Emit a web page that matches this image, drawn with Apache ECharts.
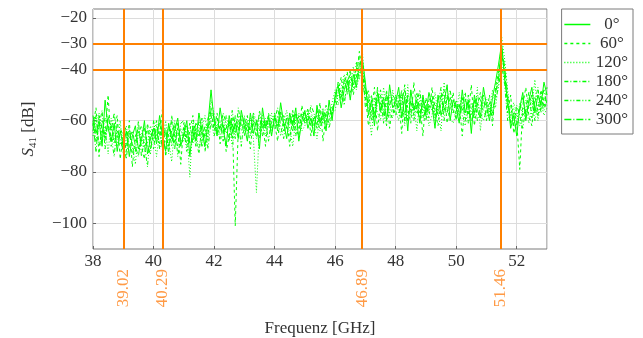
<!DOCTYPE html>
<html>
<head>
<meta charset="utf-8">
<script src="https://cdn.jsdelivr.net/npm/echarts@6/dist/echarts.min.js"></script>
<style>
  html, body { margin: 0; padding: 0; background: #fff; }
  #chart { width: 643px; height: 338px; }
</style>
</head>
<body>
<div id="chart"></div>
<script>
// sampling grid of the measurement (GHz)
const freqStart = 38
const freqStep = 0.1

const seriesNames = ['0°', '60°', '120°', '180°', '240°', '300°']

// S41 in dB, one value per 0.1 GHz from 38.0 to 53.0
const s0 = [
  -58,-65,-60,-70,-52,-63,-68,-61,-72,-64,
  -70,-64,-74,-66,-62,-71,-68,-60,-73,-67,
  -63,-69,-58,-66,-72,-61,-67,-64,-59,-70,
  -65,-60,-74,-62,-68,-57,-64,-70,-61,-48,
  -60,-66,-55,-63,-70,-58,-64,-61,-67,-56,
  -62,-68,-57,-65,-60,-71,-55,-63,-59,-66,
  -58,-64,-53,-61,-67,-57,-62,-55,-68,-60,
  -56,-63,-59,-66,-54,-61,-57,-64,-52,-60,
  -50,-46,-55,-48,-44,-52,-42,-47,-38,-36,
  -45,-58,-52,-62,-49,-56,-51,-60,-46,-55,
  -53,-47,-59,-51,-64,-48,-56,-52,-61,-50,
  -57,-49,-54,-63,-50,-58,-53,-46,-60,-52,
  -55,-61,-48,-57,-52,-65,-50,-56,-59,-47,
  -54,-60,-51,-45,-38,-30,-44,-52,-63,-58,
  -66,-55,-49,-60,-52,-47,-57,-50,-54,-45,
  -50
]
const s60 = [
  -62,-55,-74,-60,-66,-50,-70,-63,-58,-75,
  -65,-72,-60,-78,-66,-63,-70,-75,-61,-68,
  -71,-62,-66,-55,-74,-65,-60,-69,-63,-77,
  -61,-70,-64,-58,-67,-73,-62,-66,-59,-55,
  -64,-57,-69,-61,-72,-66,-59,-101,-63,-58,
  -66,-60,-71,-58,-64,-67,-61,-70,-57,-63,
  -61,-68,-56,-64,-59,-70,-57,-63,-66,-54,
  -60,-55,-66,-58,-62,-53,-68,-57,-61,-55,
  -53,-49,-43,-52,-47,-40,-50,-44,-33,-41,
  -50,-62,-56,-47,-64,-53,-58,-48,-63,-54,
  -58,-52,-65,-48,-55,-61,-45,-57,-53,-66,
  -51,-59,-47,-56,-62,-52,-48,-61,-55,-49,
  -60,-53,-66,-51,-58,-46,-62,-54,-49,-57,
  -58,-50,-62,-47,-41,-35,-40,-57,-50,-65,
  -60,-79,-54,-47,-58,-62,-51,-56,-48,-55,
  -47
]
const s120 = [
  -66,-60,-57,-68,-62,-73,-59,-66,-70,-60,
  -73,-67,-63,-70,-77,-64,-66,-72,-69,-62,
  -66,-74,-64,-70,-60,-68,-76,-62,-66,-63,
  -68,-64,-82,-60,-65,-71,-63,-58,-68,-52,
  -57,-63,-67,-59,-65,-61,-70,-62,-58,-64,
  -60,-64,-59,-67,-88,-62,-58,-66,-61,-57,
  -63,-58,-66,-60,-56,-63,-70,-59,-57,-64,
  -62,-58,-56,-61,-67,-58,-55,-62,-59,-53,
  -48,-54,-47,-42,-50,-46,-39,-48,-42,-33,
  -48,-55,-66,-51,-57,-60,-47,-55,-58,-48,
  -56,-60,-50,-62,-46,-58,-53,-64,-50,-57,
  -54,-62,-58,-49,-57,-64,-45,-55,-59,-61,
  -57,-49,-58,-62,-55,-53,-59,-47,-64,-52,
  -51,-57,-48,-55,-45,-27,-36,-48,-59,-53,
  -57,-62,-56,-52,-61,-55,-44,-60,-53,-58,
  -55
]
const s180 = [
  -60,-68,-62,-56,-71,-58,-64,-57,-66,-69,
  -68,-75,-64,-69,-72,-60,-74,-66,-63,-71,
  -65,-60,-71,-67,-63,-73,-58,-66,-70,-61,
  -60,-67,-61,-69,-63,-66,-59,-72,-65,-58,
  -62,-59,-64,-57,-61,-68,-56,-65,-60,-70,
  -58,-65,-62,-61,-67,-56,-63,-60,-68,-59,
  -60,-55,-62,-67,-58,-61,-56,-66,-58,-62,
  -58,-61,-54,-57,-63,-56,-60,-54,-58,-56,
  -52,-45,-51,-46,-41,-49,-45,-40,-35,-44,
  -52,-48,-60,-54,-52,-50,-61,-51,-57,-59,
  -50,-57,-54,-46,-60,-52,-58,-49,-57,-54,
  -60,-52,-50,-58,-53,-47,-60,-50,-53,-57,
  -52,-58,-54,-49,-61,-56,-52,-60,-55,-50,
  -60,-53,-57,-50,-43,-33,-42,-55,-54,-62,
  -54,-58,-63,-55,-49,-59,-53,-47,-57,-51,
  -53
]
const s240 = [
  -64,-58,-70,-65,-59,-62,-66,-74,-61,-63,
  -66,-62,-70,-73,-68,-65,-62,-69,-78,-64,
  -68,-65,-61,-72,-67,-62,-70,-60,-74,-66,
  -63,-72,-66,-64,-70,-60,-68,-62,-71,-60,
  -66,-62,-60,-68,-58,-63,-61,-67,-55,-62,
  -64,-58,-66,-60,-62,-58,-66,-59,-63,-61,
  -57,-62,-60,-58,-63,-66,-60,-61,-63,-57,
  -61,-57,-62,-60,-58,-64,-56,-59,-63,-57,
  -56,-50,-48,-54,-45,-42,-48,-37,-44,-38,
  -55,-51,-58,-57,-54,-48,-56,-62,-50,-52,
  -55,-50,-58,-57,-52,-56,-60,-53,-48,-59,
  -55,-56,-52,-60,-55,-53,-56,-52,-48,-56,
  -59,-55,-51,-60,-50,-58,-55,-53,-57,-60,
  -56,-58,-55,-52,-47,-38,-46,-60,-57,-55,
  -62,-53,-58,-56,-55,-52,-60,-54,-50,-56,
  -52
]
const s300 = [
  -61,-72,-58,-63,-67,-60,-62,-69,-64,-67,
  -72,-69,-67,-64,-70,-74,-65,-63,-70,-73,
  -60,-67,-69,-63,-65,-70,-64,-71,-61,-68,
  -66,-62,-69,-67,-61,-64,-70,-65,-63,-56,
  -59,-65,-62,-65,-63,-60,-67,-58,-64,-60,
  -61,-62,-64,-57,-60,-64,-60,-62,-58,-65,
  -59,-61,-58,-62,-60,-59,-64,-57,-61,-59,
  -57,-60,-58,-63,-56,-59,-61,-57,-55,-58,
  -51,-48,-52,-44,-49,-43,-46,-43,-40,-39,
  -47,-53,-50,-59,-47,-57,-53,-50,-54,-50,
  -52,-55,-48,-60,-50,-53,-54,-56,-59,-52,
  -58,-54,-56,-53,-58,-50,-55,-57,-51,-54,
  -54,-57,-56,-53,-54,-60,-57,-50,-52,-55,
  -53,-55,-59,-49,-44,-31,-39,-50,-61,-57,
  -58,-56,-51,-58,-54,-50,-55,-58,-52,-48,
  -54
]
const allSeries = [s0, s60, s120, s180, s240, s300]

// marked frequencies (GHz) and levels (dB)
const markFreqs = [39.02, 40.29, 46.89, 51.46]
const markLevels = [-30, -40]

const yTickValues = [-20, -30, -40, -60, -80, -100]
const yGridValues = [-20, -40, -60, -80, -100]

const dashTypes = ['solid', [3, 3], [1, 2], [4, 2, 1, 2], [4, 2, 1, 2, 1, 2], [7, 2, 1, 2]]

const font = 'Liberation Serif'
const fontSize = 17
const orange = '#ff8000'
const orangeText = '#ff9a45'
const green = '#00ff00'
const textColor = '#333'

const chart = echarts.init(document.getElementById('chart'))

const fmtMinus = v => String(v).replace('-', '\u2212')

const series = allSeries.map((vals, k) => ({
  name: seriesNames[k],
  type: 'line',
  symbol: 'none',
  animation: false,
  data: vals.map((v, i) => [+(freqStart + i * freqStep).toFixed(2), v]),
  lineStyle: { color: green, width: 1, type: dashTypes[k] },
  itemStyle: { color: green }
}))

series[series.length - 1].markLine = {
  silent: true,
  symbol: 'none',
  animation: false,
  label: { show: false },
  lineStyle: { color: orange, width: 2, type: 'solid' },
  data: markLevels.map(v => ({ yAxis: v })).concat(markFreqs.map(f => ({ xAxis: f })))
}

const option = {
  animation: false,
  grid: {
    left: 93, right: 96, top: 9, bottom: 89,
    containLabel: false, outerBoundsMode: 'none',
    show: true, borderColor: '#7a7a7a', borderWidth: 1
  },
  legend: {
    right: 10, top: 9,
    orient: 'vertical',
    data: seriesNames,
    itemWidth: 26, itemHeight: 14, itemGap: 2,
    padding: [7, 5, 6, 2],
    borderColor: '#7a7a7a', borderWidth: 1,
    lineStyle: { width: 1.5, opacity: 1 },
    itemStyle: { opacity: 0 },
    formatter: n => '{c|' + n + '}',
    textStyle: {
      fontFamily: font, fontSize: fontSize, color: textColor,
      rich: { c: { width: 33, align: 'center', fontFamily: font, fontSize: fontSize, color: textColor } }
    }
  },
  xAxis: [
    {
      type: 'value', min: 38, max: 53, interval: 2,
      name: 'Frequenz [GHz]', nameLocation: 'middle', nameGap: 71,
      nameTextStyle: { fontFamily: font, fontSize: fontSize, color: textColor },
      axisLine: { show: false },
      axisTick: { inside: true, length: 3, lineStyle: { color: '#666' } },
      axisLabel: { fontFamily: font, fontSize: fontSize, color: textColor, margin: 4, showMaxLabel: false },
      splitLine: { show: true, lineStyle: { color: '#dcdcdc' } }
    },
    {
      type: 'value', min: 38, max: 53, position: 'bottom',
      axisLine: { show: false }, axisTick: { show: false }, splitLine: { show: false },
      axisLabel: {
        customValues: markFreqs, rotate: 90, margin: 20,
        fontFamily: font, fontSize: fontSize, color: orangeText,
        formatter: v => v.toFixed(2)
      }
    }
  ],
  yAxis: {
    type: 'value', min: -110, max: -16.5,
    name: '{s|S}{sub|41} [dB]', nameLocation: 'middle', nameRotate: 90, nameGap: 54,
    nameTextStyle: {
      fontFamily: font, fontSize: fontSize, color: textColor,
      rich: {
        s: { fontFamily: font, fontSize: fontSize, fontStyle: 'italic', color: textColor },
        sub: { fontFamily: font, fontSize: 11, color: textColor, padding: [9, 0, 0, 0] }
      }
    },
    axisLine: { show: false },
    axisTick: { inside: true, length: 3, customValues: yGridValues, lineStyle: { color: '#666' } },
    splitLine: { show: true, customValues: yGridValues, lineStyle: { color: '#dcdcdc' } },
    axisLabel: {
      customValues: yTickValues, margin: 6,
      fontFamily: font, fontSize: fontSize,
      color: v => (markLevels.includes(v) ? orangeText : textColor),
      formatter: fmtMinus
    }
  },
  series: series
}

chart.setOption(option)
</script>
</body>
</html>
